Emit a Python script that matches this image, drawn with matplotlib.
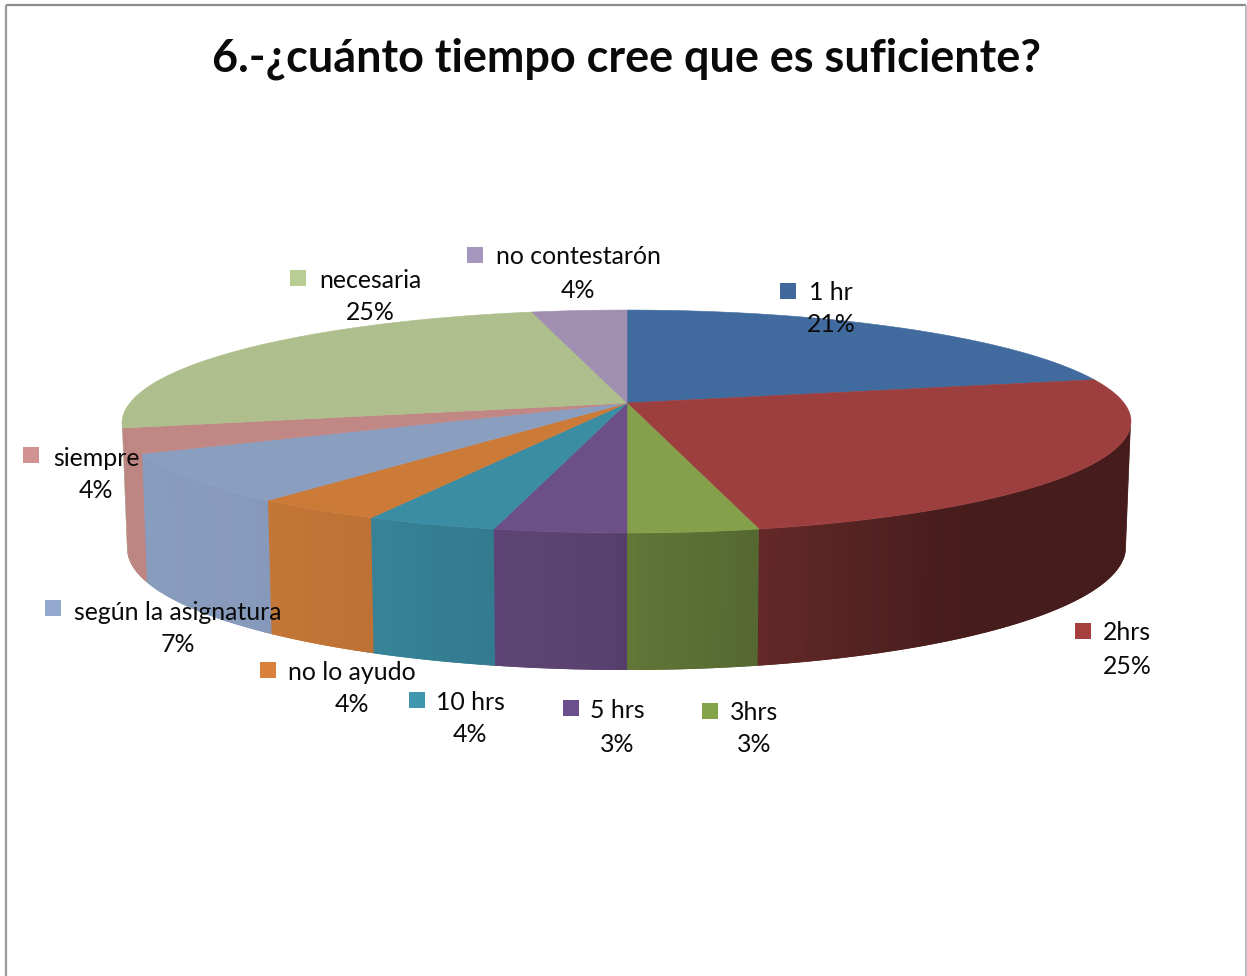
import numpy as np
import matplotlib
matplotlib.use("Agg")
import matplotlib.pyplot as plt
from matplotlib.patches import Polygon, Rectangle

# --- data
title = "6.-¿cuánto tiempo cree que es suficiente?"
categories = ["1 hr", "2hrs", "3hrs", "5 hrs", "10 hrs", "no lo ayudo",
              "según la asignatura", "siempre", "necesaria", "no contestarón"]
counts = [6, 7, 1, 1, 1, 1, 2, 1, 7, 1]
pct_labels = ["21%", "25%", "3%", "3%", "4%", "4%", "7%", "4%", "25%", "4%"]

# --- style
top_colors = ["#416B9E", "#9C3F3E", "#84A04B", "#6B4F86", "#3B8DA3",
              "#CB7A38", "#8A9EC0", "#C08784", "#AEBE8C", "#A08FB0"]
swatch_colors = ["#41699C", "#A5403E", "#84A449", "#6B4E8C", "#3E97AF",
                 "#D9813B", "#94A9CE", "#D19391", "#B9CC94", "#A596BD"]
FONT = "Lato"
LABEL_SIZE = 17.9
TITLE_SIZE = 32.4

# label layout: (text centre x, name y, pct y, swatch centre x, swatch centre y)
label_pos = [
    (831, 293, 325, 788, 291),
    (1127, 633, 666, 1083, 631),
    (754, 713, 745, 710, 711),
    (617, 711, 744, 571, 708),
    (470, 703, 735, 417, 700),
    (352, 672, 705, 268, 670),
    (178, 612, 644, 53, 608),
    (96, 458, 490, 31, 455),
    (370, 280, 313, 298, 278),
    (578, 257, 290, 475, 255),
]

fig = plt.figure(figsize=(12.47, 9.76), dpi=100)
ax = fig.add_axes([0, 0, 1, 1])
ax.set_xlim(0, 1247)
ax.set_ylim(976, 0)
ax.axis("off")

# --- perspective projection of the pie disc
CX, CY, RX, RY, K = 627.0, 403.0, 497.0, 108.4, -0.166
BOTTOM_Y, BOTTOM_RY, BOTTOM_SCALE = 526.6, 119.6, 0.99
SKEW = 6.0


def top_pt(t):
    u, v = np.sin(t), -np.cos(t)
    w = 1 + K * v
    skew = SKEW * np.clip(-u, 0, None) * np.clip(v, 0, None)
    return CX + RX * u / w - skew, CY + RY * v / w


def bottom_pt(t):
    u, v = np.sin(t), -np.cos(t)
    w = 1 + K * v
    skew = SKEW * np.clip(-u, 0, None) * np.clip(v, 0, None)
    return CX + BOTTOM_SCALE * RX * u / w - skew, BOTTOM_Y + BOTTOM_RY * v / w


def shade(color, x):
    f = np.interp(x, [130, 270, 370, 495, 622, 632, 760, 950, 1130],
                  [0.99, 0.97, 0.93, 0.87, 0.82, 0.74, 0.65, 0.46, 0.44])
    return tuple(c * f for c in matplotlib.colors.to_rgb(color))


fractions = np.array(counts, dtype=float) / sum(counts)
edges = np.concatenate([[0], np.cumsum(fractions)]) * 2 * np.pi

# side wall, drawn strip by strip so that the shading can vary;
# each strip runs on under the next one so no seams show
for i, color in enumerate(top_colors):
    n = max(4, int(fractions[i] * 360))
    ts = np.linspace(edges[i], edges[i + 1], n + 1)
    step = ts[1] - ts[0]
    for a, b in zip(ts[:-1], ts[1:]):
        if -np.cos(a) < 0.2 and -np.cos(b) < 0.2:
            continue
        far = b + step
        xa, ya = top_pt(a)
        xb, yb = top_pt(far)
        xc, yc = bottom_pt(far)
        xd, yd = bottom_pt(a)
        c = shade(color, xa)
        ax.add_patch(Polygon([(xa, ya), (xb, yb), (xc, yc), (xd, yd)],
                             closed=True, facecolor=c, edgecolor="none"))

# top face
for i, color in enumerate(top_colors):
    ts = np.linspace(edges[i], edges[i + 1], 120)
    xs, ys = top_pt(ts)
    pts = [(CX, CY)] + list(zip(xs, ys))
    ax.add_patch(Polygon(pts, closed=True, facecolor=color, edgecolor=color, linewidth=0.4))

# labels
for name, pct, col, (tx, ny, py, sx, sy) in zip(categories, pct_labels, swatch_colors, label_pos):
    ax.add_patch(Rectangle((sx - 8, sy - 8), 16, 16, facecolor=col, edgecolor="none"))
    ax.text(tx, ny, name, ha="center", va="center", fontsize=LABEL_SIZE, family=FONT, color="#0a0a0a")
    ax.text(tx, py, pct, ha="center", va="center", fontsize=LABEL_SIZE, family=FONT, color="#0a0a0a")

ax.text(626, 59, title, ha="center", va="center", fontsize=TITLE_SIZE,
        fontweight="bold", family=FONT, color="#0a0a0a")

# chart frame: top, left and right only
ax.plot([5.5, 1245.5], [5, 5], color="#8a8a8a", lw=1.6, solid_capstyle="butt")
ax.plot([5.5, 5.5], [5, 976], color="#9a9a9a", lw=1.6, solid_capstyle="butt")
ax.plot([1245.5, 1245.5], [5, 976], color="#bdbdbd", lw=1.4, solid_capstyle="butt")

fig.savefig("out.png", dpi=100, facecolor="white")
